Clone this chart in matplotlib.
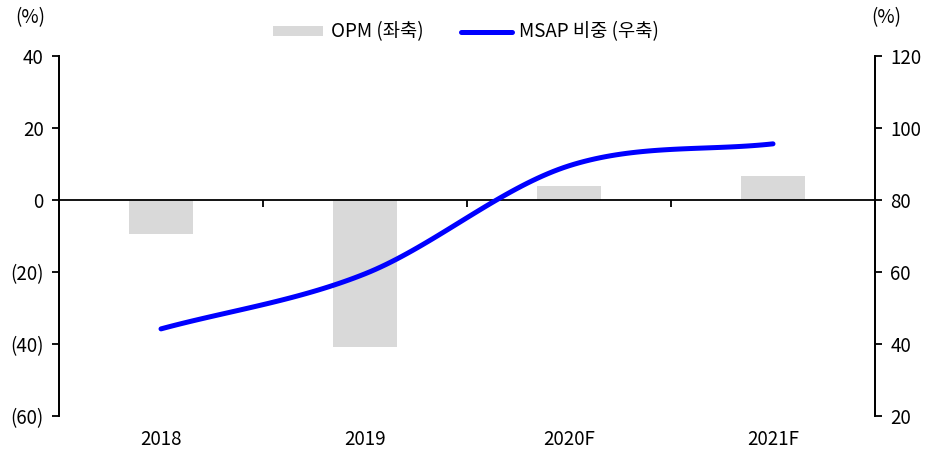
import numpy as np
import matplotlib
matplotlib.use("Agg")
import matplotlib.pyplot as plt

plt.rcParams['font.family'] = ['Noto Sans CJK KR', 'DejaVu Sans']

years = ['2018', '2019', '2020F', '2021F']
opm = [-9.4, -40.8, 3.8, 6.8]
msap = [44.2, 59.5, 89.5, 95.6]


def catmull(xs, ys, n=40):
    # smooth line through the points, like a spreadsheet "smoothed line"
    xs = np.asarray(xs, float)
    ys = np.asarray(ys, float)
    px = np.concatenate([[2 * xs[0] - xs[1]], xs, [2 * xs[-1] - xs[-2]]])
    py = np.concatenate([[2 * ys[0] - ys[1]], ys, [2 * ys[-1] - ys[-2]]])
    outx, outy = [], []
    t = np.linspace(0, 1, n)
    for i in range(1, len(px) - 2):
        for arr, out in ((px, outx), (py, outy)):
            p0, p1, p2, p3 = arr[i - 1], arr[i], arr[i + 1], arr[i + 2]
            c1 = p1 + (p2 - p0) / 6
            c2 = p2 - (p3 - p1) / 6
            out.extend((1 - t) ** 3 * p1 + 3 * (1 - t) ** 2 * t * c1
                       + 3 * (1 - t) * t ** 2 * c2 + t ** 3 * p2)
    return np.array(outx), np.array(outy)


fig = plt.figure(figsize=(9.41, 4.5), dpi=100)
ax = fig.add_axes([59 / 941, 34 / 450, 816 / 941, 360 / 450])
ax2 = ax.twinx()

x = np.arange(len(years)) + 0.5
ax.bar(x, opm, width=0.31, color='#d9d9d9', label='OPM (좌축)', zorder=1)

sx, sy = catmull(x, msap)
ax2.plot(sx, sy, color='#0000ff', lw=3.6, solid_capstyle='round',
         label='MSAP 비중 (우축)')

ax.set_xlim(0, 4)
ax.set_ylim(-60, 40)
ax.set_yticks(range(-60, 41, 20))
ax.set_yticklabels(['(60)', '(40)', '(20)', '0', '20', '40'])
ax2.set_ylim(20, 120)
ax2.set_yticks(range(20, 121, 20))

ax.spines['top'].set_visible(False)
ax2.spines['top'].set_visible(False)
ax.spines['bottom'].set_position(('data', 0))
ax2.spines['bottom'].set_visible(False)
for a in (ax, ax2):
    for s in a.spines.values():
        s.set_linewidth(1.3)
        s.set_color('black')

fs = 13.5
ax.set_xticks([1, 2, 3])
ax.set_xticklabels([])
ax.tick_params(axis='x', direction='out', length=5, width=1.3)
ax.tick_params(axis='y', direction='out', length=5, width=1.3, labelsize=fs, pad=6)
ax2.tick_params(axis='y', direction='out', length=5, width=1.3, labelsize=fs, pad=6)
ax.set_zorder(ax2.get_zorder() - 1)
ax2.patch.set_visible(False)

for xi, lab in zip(x, years):
    ax.text(xi, -0.065, lab, transform=ax.get_xaxis_transform(),
            ha='center', va='center', fontsize=fs)

fig.text(30 / 941, 1 - 18 / 450, '(%)', ha='center', va='center', fontsize=fs)
fig.text(886 / 941, 1 - 18 / 450, '(%)', ha='center', va='center', fontsize=fs)

h1, l1 = ax.get_legend_handles_labels()
h2, l2 = ax2.get_legend_handles_labels()
fig.legend(h1 + h2, l1 + l2, loc='center', bbox_to_anchor=(0.495, 1 - 32 / 450),
           ncol=2, frameon=False, fontsize=fs, handlelength=2.7, handleheight=0.5,
           columnspacing=2.0, handletextpad=0.4)

fig.savefig('out.png', dpi=100)
